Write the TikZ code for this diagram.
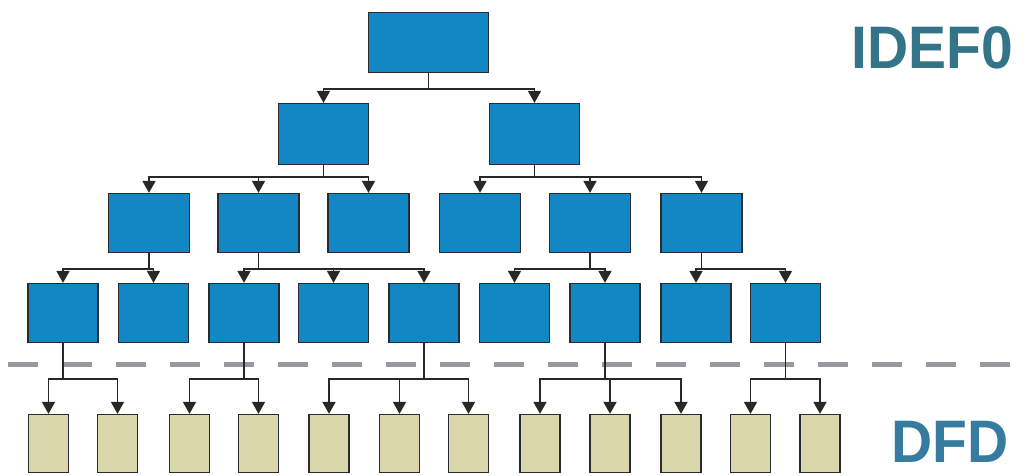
\documentclass[tikz,border=0pt]{standalone}
\usepackage{fontspec}
\newfontfamily\labelfont{Liberation Sans}
\usetikzlibrary{arrows.meta}
\definecolor{idefblue}{RGB}{18,135,195}
\definecolor{dfdsand}{RGB}{218,215,172}
\definecolor{edge}{RGB}{40,44,48}
\definecolor{linkgray}{RGB}{40,40,40}
\definecolor{split}{RGB}{150,154,158}
\definecolor{idefteal}{RGB}{52,116,136}
\definecolor{dfdteal}{RGB}{55,124,160}
\tikzset{
  box/.style={draw=edge, line width=1.3pt, inner sep=0pt},
  idefbox/.style={box, fill=idefblue},
  dfdbox/.style={box, fill=dfdsand, minimum width=40pt, minimum height=58pt},
  link/.style={draw=linkgray, line width=1.8pt, -{Triangle[width=13pt,length=12pt]}},
  tag/.style={font=\labelfont\bfseries\fontsize{60}{60}\selectfont, inner sep=0pt,
    anchor=base west, xscale=0.95}
}

\begin{document}
\begin{tikzpicture}[x=1pt,y=-1pt]
\useasboundingbox (0,0) rectangle (1023,475);
\draw[split, line width=5pt, dash pattern=on 30pt off 24pt] (8,364) -- (1010,364);
% IDEF0
\node[idefbox, minimum width=120pt, minimum height=60pt] (n0) at (428.5,42.5) {};
\node[idefbox, minimum width=90pt, minimum height=61pt] (n1) at (323.5,134) {};
\node[idefbox, minimum width=90pt, minimum height=61pt] (n2) at (534.5,134) {};
\foreach \n/\x in {n11/149, n12/258.5, n13/368.5, n21/480, n22/590, n23/701.5}
  \node[idefbox, minimum width=81pt, minimum height=59pt] (\n) at (\x,223) {};
\foreach \n/\x in {n111/63, n112/153.5, n121/244, n122/333.5, n123/424,
                   n221/514.5, n222/605, n231/696, n232/785.5}
  \node[idefbox, minimum width=70pt, minimum height=59pt] (\n) at (\x,313) {};
% DFD
\foreach \i/\x in {1/48.5, 2/117.5, 3/189.5, 4/258.5, 5/329, 6/399.5,
                   7/468.5, 8/540, 9/610, 10/681, 11/750.5, 12/820}
  \node[dfdbox] (d\i) at (\x,443.5) {};
\foreach \p/\c/\d in {n0/n1/16, n0/n2/16,
    n1/n11/12, n1/n12/12, n1/n13/12, n2/n21/12, n2/n22/12, n2/n23/12,
    n11/n111/16, n11/n112/16, n12/n121/16, n12/n122/16, n12/n123/16,
    n22/n221/16, n22/n222/16, n23/n231/16, n23/n232/16,
    n111/d1/36, n111/d2/36, n121/d3/36, n121/d4/36,
    n123/d5/36, n123/d6/36, n123/d7/36,
    n222/d8/36, n222/d9/36, n222/d10/36, n232/d11/36, n232/d12/36}
  \draw[link] (\p.south) -- ++(0,\d) -| (\c.north);
\node[tag, text=idefteal] (idef) at (851,68) {IDEF0};
\node[tag, text=dfdteal] (dfd) at (891,462) {DFD};
\end{tikzpicture}
\end{document}
